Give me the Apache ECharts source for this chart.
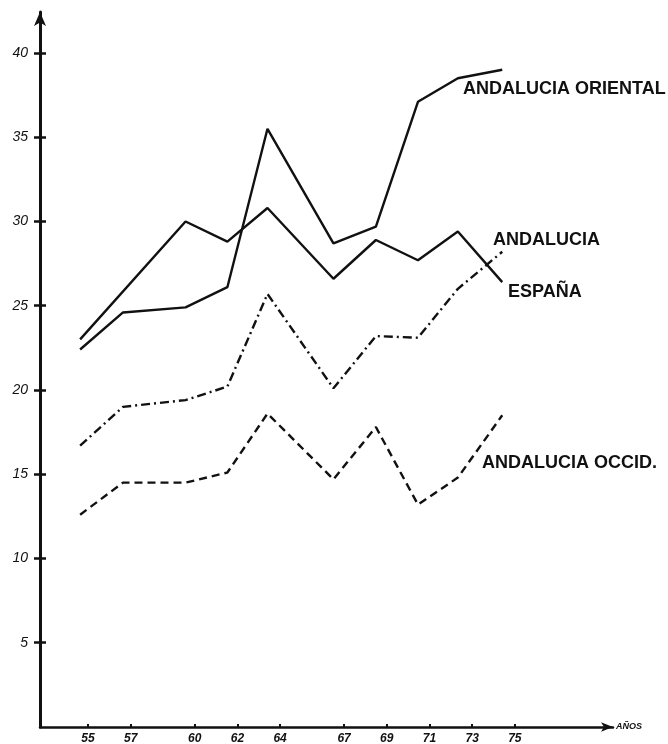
<!DOCTYPE html>
<html>
<head>
<meta charset="utf-8">
<script src="https://cdn.jsdelivr.net/npm/echarts@6/dist/echarts.min.js"></script>
<style>
    html, body {margin: 0; padding: 0; background: #fff;}
    #main {width: 668px; height: 744px;}
</style>
</head>
<body>
<div id="main"></div>
<script>
    // años marcados en el eje
    var years = [55, 57, 60, 62, 64, 67, 69, 71, 73, 75];
    // posición de los puntos leída sobre la escala de años (el dibujo va algo desplazado)
    var xAt = [54.63, 56.64, 59.57, 61.53, 63.41, 66.5, 68.49, 70.46, 72.33, 74.41];
    var yTicks = [5, 10, 15, 20, 25, 30, 35, 40];

    var espana = [23.0, null, 30.0, 28.8, 30.8, 26.6, 28.9, 27.7, 29.4, 26.4];
    var oriental = [22.4, 24.6, 24.9, 26.1, 35.5, 28.7, 29.7, 37.1, 38.5, 39.0];
    var andalucia = [16.7, 19.0, 19.4, 20.2, 25.7, 20.1, 23.2, 23.1, 26.0, 28.2];
    var occid = [12.6, 14.5, 14.5, 15.1, 18.6, 14.7, 17.8, 13.2, 14.8, 18.5];

    function pairs(vals) {
        var out = [];
        for (var i = 0; i < vals.length; i++) {
            if (vals[i] != null) out.push([xAt[i], vals[i]]);
        }
        return out;
    }

    function line(name, vals, dash) {
        return {
            name: name,
            type: 'line',
            data: pairs(vals),
            symbol: 'none',
            silent: true,
            lineStyle: {color: '#111', width: 2.4, type: dash || 'solid', cap: 'butt'}
        };
    }

    var myChart = echarts.init(document.getElementById('main'));

    var option = {
        animation: false,
        backgroundColor: '#fff',
        grid: {left: 40, right: 55, top: 12, bottom: 17, outerBoundsMode: 'none', containLabel: false},
        xAxis: {
            type: 'value',
            min: 52.75,
            max: 79.6,
            name: 'AÑOS',
            nameLocation: 'end',
            nameGap: 3,
            nameTextStyle: {color: '#111', fontSize: 9, fontStyle: 'italic', fontWeight: 'bold', fontFamily: 'Liberation Sans'},
            axisLine: {lineStyle: {color: '#111', width: 2.5}, symbol: ['none', 'arrow'], symbolSize: [7, 12]},
            axisTick: {inside: true, length: 3, customValues: years, lineStyle: {color: '#111', width: 2}},
            axisLabel: {
                customValues: years,
                margin: 6,
                color: '#111',
                fontSize: 12,
                fontStyle: 'italic',
                fontWeight: 'bold',
                fontFamily: 'Liberation Sans'
            },
            splitLine: {show: false}
        },
        yAxis: [
            {
                type: 'value',
                min: 0,
                max: 42.43,
                axisLine: {show: true, lineStyle: {color: '#111', width: 3}, symbol: ['none', 'arrow'], symbolSize: [9, 14]},
                axisTick: {show: true, length: 6, customValues: yTicks, lineStyle: {color: '#111', width: 2.5}},
                axisLabel: {
                    customValues: yTicks,
                    margin: 12,
                    color: '#111',
                    fontSize: 14,
                    fontStyle: 'italic',
                    fontFamily: 'Liberation Sans'
                },
                splitLine: {show: false}
            },
            {
                type: 'value',
                min: 0,
                max: 42.43,
                position: 'left',
                offset: 0,
                axisLine: {show: false},
                axisTick: {show: true, inside: true, length: 6, customValues: yTicks, lineStyle: {color: '#111', width: 2.5}},
                axisLabel: {show: false},
                splitLine: {show: false}
            }
        ],
        series: [
            line('ESPAÑA', espana),
            line('ANDALUCIA ORIENTAL', oriental),
            line('ANDALUCIA', andalucia, [9, 4, 2, 4]),
            line('ANDALUCIA OCCID.', occid, [8, 5])
        ],
        graphic: [
            {type: 'text', x: 463, y: 98, style: {text: 'ANDALUCIA ORIENTAL', fill: '#111', font: 'bold 18px "Liberation Sans"', textVerticalAlign: 'bottom'}},
            {type: 'text', x: 493, y: 249, style: {text: 'ANDALUCIA', fill: '#111', font: 'bold 18px "Liberation Sans"', textVerticalAlign: 'bottom'}},
            {type: 'text', x: 508, y: 301, style: {text: 'ESPAÑA', fill: '#111', font: 'bold 18px "Liberation Sans"', textVerticalAlign: 'bottom'}},
            {type: 'text', x: 482, y: 472, style: {text: 'ANDALUCIA OCCID.', fill: '#111', font: 'bold 18px "Liberation Sans"', textVerticalAlign: 'bottom'}}
        ]
    };

    myChart.setOption(option);
</script>
</body>
</html>
